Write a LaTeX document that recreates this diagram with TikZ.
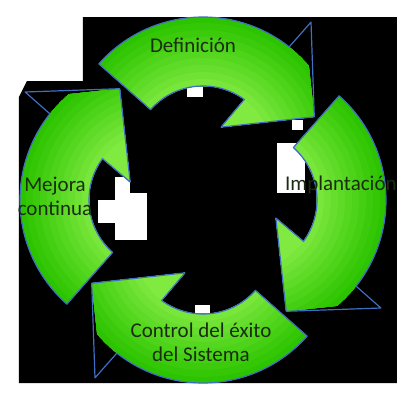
\documentclass[tikz,border=0pt]{standalone}
\usepackage{fontspec}
\setmainfont{Carlito}
\definecolor{ringlight}{HTML}{80EA40}
\definecolor{ringdark}{HTML}{2CC400}
\definecolor{ringline}{HTML}{3F6FC2}
\definecolor{labeltext}{HTML}{1A2C12}

\begin{document}
\begin{tikzpicture}[x=1pt,y=1pt,
    lbl/.style={text=labeltext, font=\fontsize{21}{24}\selectfont, align=center, inner sep=0pt}]
    %\draw[help lines,step=20] (-200,-200) grid (200,200);
    \useasboundingbox (-203,-200) rectangle (197,200);
    \fill[white] (-203,-200) rectangle (197,200);
    \fill[black] (-120,183) -- (194,183) -- (194,-183) -- (-184,-183) -- (-184,103)
        -- (-180,111) -- (-176,119) -- (-120,119) -- cycle;
    % white specks of the scan
    \fill[white] (-88,7) rectangle (-56,-40);
    \fill[white] (-88,23) rectangle (-73,7);
    \fill[white] (-105,0) rectangle (-88,-23);
    \fill[white] (74,57) rectangle (102,7);
    \fill[white] (89,80) rectangle (100,70);
    \fill[white] (-16,113) rectangle (0,103);
    \fill[white] (-8,-105) rectangle (7,-113);

    \foreach \ang in {0,-90,-180,-270}{
      \begin{scope}[rotate=\ang, shift={(0,44)}]
        \begin{scope}
          \clip (138.5:139) arc[start angle=138.5, end angle=40.4, radius=139] -- (19.4:118)
              -- (58:34) -- (53.8:70) arc[start angle=53.8, end angle=138.5, radius=70] -- cycle;
          \foreach \i in {0,...,15}{
            \pgfmathsetmacro\rr{175-7*\i}
            \pgfmathsetmacro\mx{max(0,min(100,(139-\rr)/69*100))}
            \fill[ringlight!\mx!ringdark] (0,0) circle (\rr);
          }
        \end{scope}
        \draw[ringline, line width=1.2pt, line join=round] (138.5:139)
            arc[start angle=138.5, end angle=51.7, radius=139] -- (51.1:172) -- (19.4:118)
            -- (58:34) -- (53.8:70) arc[start angle=53.8, end angle=138.5, radius=70] -- cycle;
      \end{scope}
    }

    \node[lbl] (definicion) at (-10,154.5) {Definición};
    \node[lbl, anchor=base west] (implantacion) at (82,10) {Implantación};
    \node[lbl] (mejora) at (-148,4) {Mejora\\continua};
    \node[lbl] (control) at (-2,-142) {Control del éxito\\del Sistema};
\end{tikzpicture}
\end{document}
